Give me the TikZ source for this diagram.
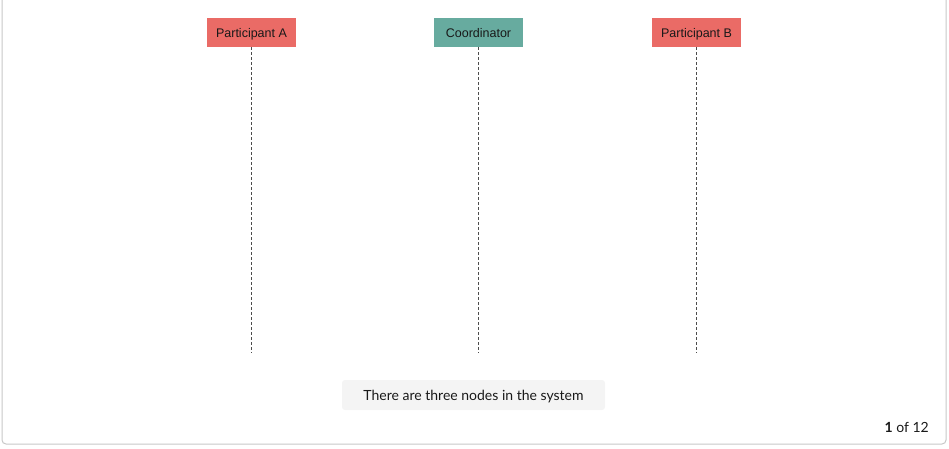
\documentclass[tikz,border=0pt]{standalone}
\usepackage{fontspec}
\setmainfont{Liberation Sans}
\newfontfamily\capfont{Lato}
\begin{document}
\begin{tikzpicture}[x=1pt,y=-1pt,
  actor/.style={minimum width=89pt,minimum height=29pt,inner sep=0pt,text height=9pt,text depth=0pt,font=\fontsize{12.5}{14}\selectfont,text=black!90},
  lifeline/.style={draw=black!70,line width=1pt,dash pattern=on 3pt off 2pt},
]
\useasboundingbox (0,0) rectangle (949,448);
\definecolor{redc}{HTML}{EA6B66}
\definecolor{tealc}{HTML}{67AB9F}
\definecolor{capbg}{HTML}{F4F4F4}
\draw[draw=black!22,line width=1pt,rounded corners=4pt] (2,-10) rectangle (946,444);
\node[actor,fill=redc] (pa) at (251.5,32.5) {Participant A};
\node[actor,fill=tealc] (co) at (478.5,32.5) {Coordinator};
\node[actor,fill=redc] (pb) at (696.5,32.5) {Participant B};
\coordinate (ea) at (251.5,353);
\coordinate (ec) at (478.5,353);
\coordinate (eb) at (696.5,353);
\draw[lifeline] (pa.south) -- (ea);
\draw[lifeline] (co.south) -- (ec);
\draw[lifeline] (pb.south) -- (eb);
\node[fill=capbg,rounded corners=3pt,minimum width=263pt,minimum height=30pt,inner sep=0pt,text height=10pt,text depth=0pt,font=\capfont\fontsize{14}{16}\selectfont,text=black!90] (cap) at (473.5,395) {There are three nodes in the system};
\node[anchor=east,inner sep=0pt,font=\capfont\fontsize{14}{16}\selectfont,text=black!90] (pg) at (929,427) {\textbf{1} of 12};
\end{tikzpicture}
\end{document}
